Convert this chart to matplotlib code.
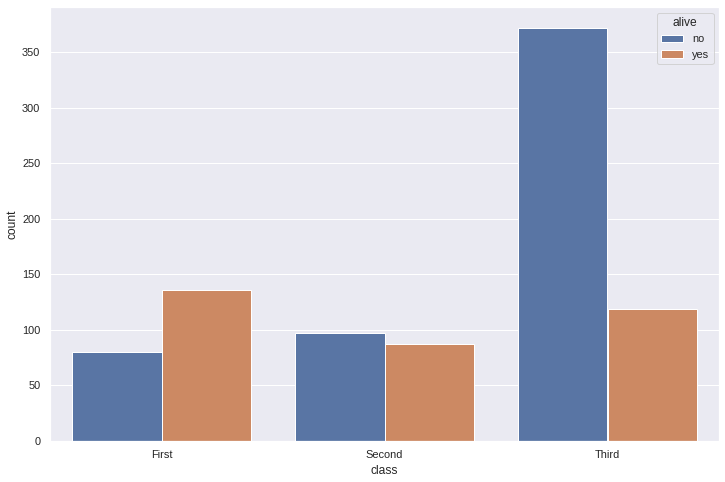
import matplotlib
matplotlib.use("Agg")
import matplotlib.pyplot as plt
import seaborn as sns
import numpy as np

sns.set_theme()
plt.rcParams['font.family'] = ['Liberation Sans', 'DejaVu Sans']

classes = ["First", "Second", "Third"]
alive_levels = ["no", "yes"]
count_no = [80, 97, 372]
count_yes = [136, 87, 119]

colors = [sns.desaturate(c, 0.75) for c in sns.color_palette("deep")[:2]]

W, H = 725, 482
fig = plt.figure(figsize=(W/72, H/72), dpi=72)
ax = fig.add_axes([50/W, (H-441)/H, (719-50)/W, (441-7)/H])

x = np.arange(len(classes))
w = 0.4
ax.bar(x - w/2, count_no, width=w, color=colors[0], label=alive_levels[0], edgecolor="white", linewidth=1)
ax.bar(x + w/2, count_yes, width=w, color=colors[1], label=alive_levels[1], edgecolor="white", linewidth=1)
ax.set_xticks(x)
ax.set_xticklabels(classes)
ax.set_xlim(-0.5, 2.5)
ax.set_ylim(0, 390.5)
ax.grid(False, axis="x")
ax.set_xlabel("class")
ax.set_ylabel("count")
ax.legend(title="alive", loc="upper right")

fig.savefig("out.png", dpi=72)
